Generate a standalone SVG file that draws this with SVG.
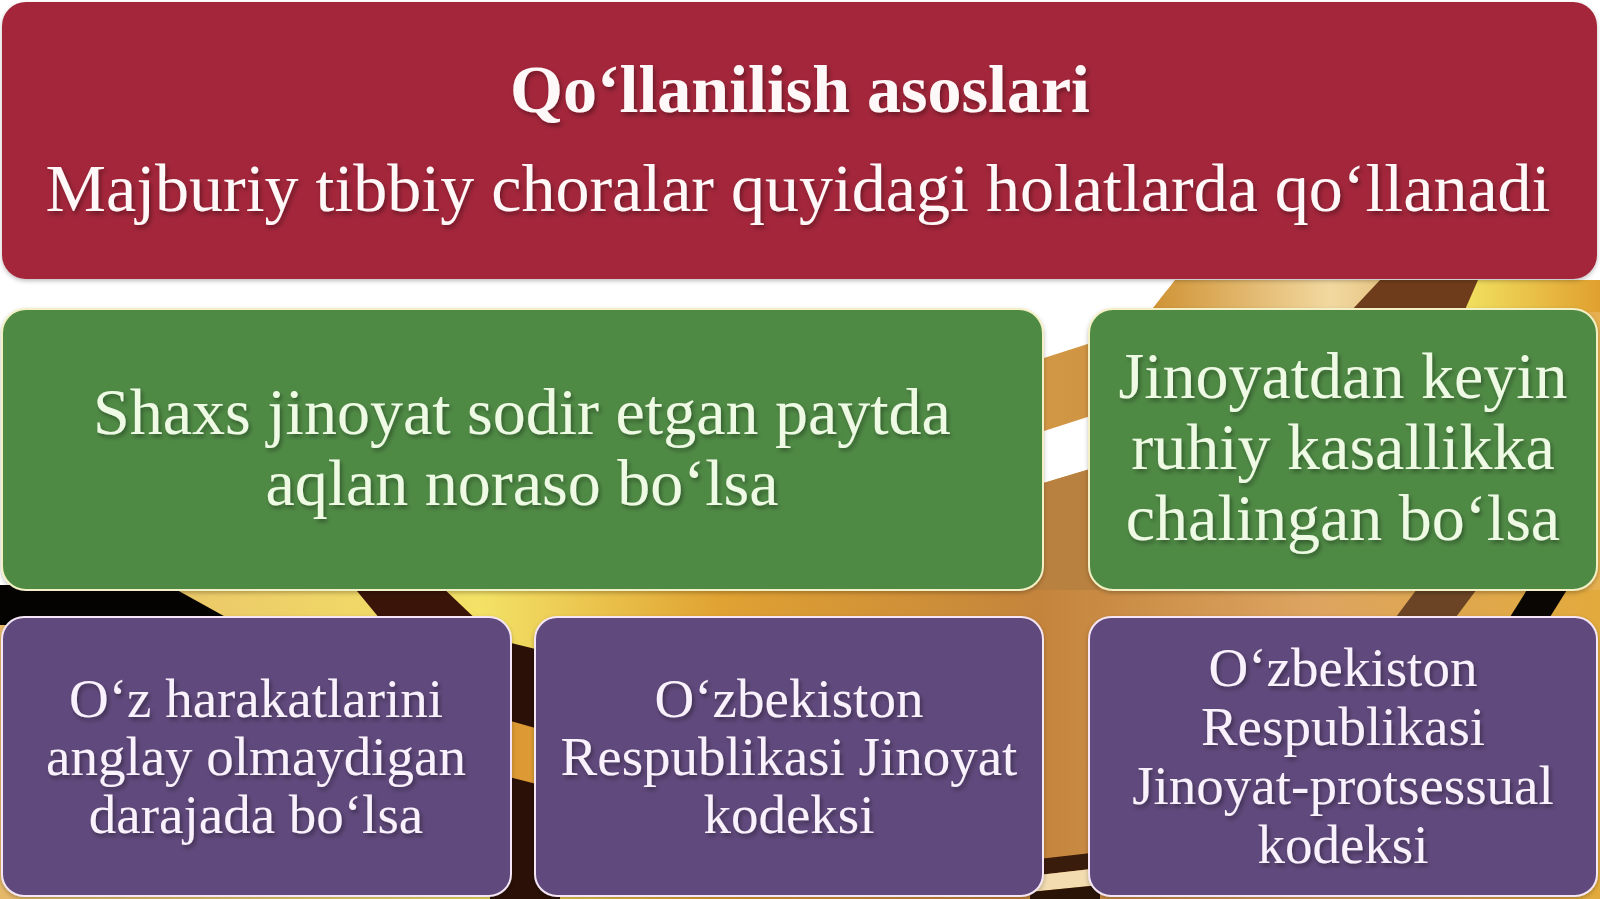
<svg xmlns="http://www.w3.org/2000/svg" width="1600" height="899" viewBox="0 0 1600 899">
<defs>
<linearGradient id="goldLow" x1="0" y1="0" x2="1600" y2="0" gradientUnits="userSpaceOnUse">
<stop offset="0" stop-color="#e6b86a"/>
<stop offset="0.3" stop-color="#f3e266"/>
<stop offset="0.45" stop-color="#e0a232"/>
<stop offset="0.65" stop-color="#c4843c"/>
<stop offset="0.82" stop-color="#dca460"/>
<stop offset="1" stop-color="#e2aa3c"/>
</linearGradient>
<linearGradient id="goldRight" x1="1000" y1="0" x2="1600" y2="0" gradientUnits="userSpaceOnUse">
<stop offset="0" stop-color="#d49a44"/>
<stop offset="0.5" stop-color="#c28843"/>
<stop offset="1" stop-color="#e6b050"/>
</linearGradient>
<linearGradient id="goldTop" x1="1150" y1="0" x2="1600" y2="0" gradientUnits="userSpaceOnUse">
<stop offset="0" stop-color="#cf9233"/>
<stop offset="0.4" stop-color="#f2d8a0"/>
<stop offset="0.5" stop-color="#e8c888"/>
<stop offset="0.7" stop-color="#f1e060"/>
<stop offset="1" stop-color="#e0a030"/>
</linearGradient>
<filter id="ts" x="-5%" y="-20%" width="110%" height="150%">
<feDropShadow dx="2" dy="3" stdDeviation="2" flood-color="#000" flood-opacity="0.35"/>
</filter>
<filter id="bs" x="-5%" y="-5%" width="110%" height="115%">
<feDropShadow dx="0" dy="2" stdDeviation="2" flood-color="#000" flood-opacity="0.25"/>
</filter>
</defs>
<style>
text{font-family:"Liberation Serif","Times New Roman",serif;text-anchor:middle;filter:url(#ts)}
.red rect{fill:#a3283a;filter:url(#bs)}
.green rect{fill:#4f8a45;stroke:#f2f0c4;stroke-width:2;filter:url(#bs)}
.purple rect{fill:#614a7c;stroke:#f4e6f4;stroke-width:2;filter:url(#bs)}
.red text{fill:#fff8f8;font-size:68px}
.green text{fill:#eefae4;font-size:66px}
.purple text{fill:#f9f1fb;font-size:55px}
</style>
<g id="background">
<rect x="0" y="0" width="1600" height="899" fill="#ffffff"/>
<rect x="0" y="585" width="1600" height="314" fill="url(#goldLow)"/>
<rect x="1000" y="290" width="600" height="300" fill="url(#goldRight)"/>
<polygon points="1000,280 1175,280 1150,312 1100,340 1000,372" fill="#ffffff"/>
<polygon points="1000,445 1100,413 1100,466 1000,496" fill="#ffffff"/>
<polygon points="1000,496 1100,466 1100,590 1000,590" fill="#b9813f"/>
<polygon points="1175,280 1600,280 1600,312 1150,312" fill="url(#goldTop)"/>
<polygon points="1380,280 1478,280 1464,312 1350,312" fill="#6e3c1a"/>
<polygon points="0,585 168,585 240,625 0,625" fill="#050202"/>
<polygon points="352,585 440,585 482,625 385,625" fill="#3a1408"/>
<polygon points="490,638 560,655 560,899 490,899" fill="#2a1006"/>
<polygon points="490,715 560,735 560,790 490,772" fill="#dd9a34"/>
<polygon points="1420,585 1480,585 1450,625 1390,625" fill="#6a4424"/>
<polygon points="1530,585 1570,585 1545,625 1505,625" fill="#0a0604"/>
<polygon points="1030,860 1100,852 1100,868 1030,876" fill="#3a1c0c"/>
<polygon points="1030,876 1100,868 1100,885 1030,892" fill="#f2dcb0"/>
<polygon points="1030,892 1100,885 1100,899 1030,899" fill="#2a1408"/>
</g>
<g id="connectors"></g>
<g id="node-header" class="red">
<rect x="2" y="2" width="1595" height="277" rx="24"/>
<text x="800" y="112" font-weight="bold">Qo‘llanilish asoslari</text>
<text x="798" y="211">Majburiy tibbiy choralar quyidagi holatlarda qo‘llanadi</text>
</g>
<g id="node-green-1" class="green">
<rect x="2" y="309" width="1041" height="281" rx="24"/>
<text x="522" y="434">Shaxs jinoyat sodir etgan paytda</text>
<text x="522" y="505">aqlan noraso bo‘lsa</text>
</g>
<g id="node-green-2" class="green">
<rect x="1089" y="309" width="508" height="281" rx="24"/>
<text x="1343" y="398">Jinoyatdan keyin</text>
<text x="1343" y="469">ruhiy kasallikka</text>
<text x="1343" y="540">chalingan bo‘lsa</text>
</g>
<g id="node-purple-1" class="purple">
<rect x="2" y="617" width="509" height="279" rx="22"/>
<text x="256" y="717">O‘z harakatlarini</text>
<text x="256" y="775">anglay olmaydigan</text>
<text x="256" y="833">darajada bo‘lsa</text>
</g>
<g id="node-purple-2" class="purple">
<rect x="535" y="617" width="508" height="279" rx="22"/>
<text x="789" y="717">O‘zbekiston</text>
<text x="789" y="775">Respublikasi Jinoyat</text>
<text x="789" y="833">kodeksi</text>
</g>
<g id="node-purple-3" class="purple">
<rect x="1089" y="617" width="508" height="279" rx="22"/>
<text x="1343" y="686">O‘zbekiston</text>
<text x="1343" y="745">Respublikasi</text>
<text x="1343" y="804">Jinoyat-protsessual</text>
<text x="1343" y="863">kodeksi</text>
</g>
</svg>
